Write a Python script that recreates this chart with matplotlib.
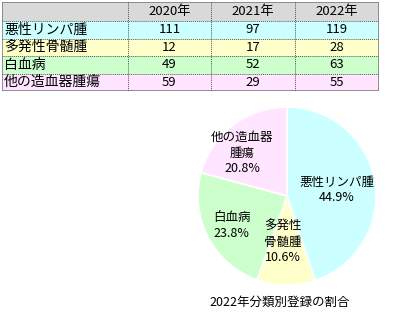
import matplotlib
matplotlib.use("Agg")
import matplotlib.pyplot as plt
from matplotlib.patches import Rectangle

plt.rcParams['font.family'] = ['Noto Sans CJK JP', 'DejaVu Sans']

years = ['2020年', '2021年', '2022年']
categories = ['悪性リンパ腫', '多発性骨髄腫', '白血病', '他の造血器腫瘍']
v2020 = [111, 12, 49, 59]
v2021 = [97, 17, 52, 29]
v2022 = [119, 28, 63, 55]
pie_labels = ['悪性リンパ腫', '多発性\n骨髄腫', '白血病', '他の造血器\n腫瘍']
title = '2022年分類別登録の割合'

row_colors = ['#ccffff', '#ffffcc', '#ccffcc', '#ffe5ff']
header_color = '#d9d9d9'

W, H = 400, 320
fig = plt.figure(figsize=(4, 3.2), dpi=100)

# ---- table axes in pixel coords ----
tx0, tx1, ty0, ty1 = 2, 379, 2, 91
tax = fig.add_axes([tx0 / W, 1 - ty1 / H, (tx1 - tx0) / W, (ty1 - ty0) / H])
tax.set_xlim(tx0, tx1)
tax.set_ylim(ty1, ty0)
tax.axis('off')

col_edges = [2, 128, 211, 295, 379]
row_edges = [2, 21, 38.5, 56, 73.5, 91]
cols = [v2020, v2021, v2022]

tax.add_patch(Rectangle((col_edges[0], row_edges[0]), col_edges[-1] - col_edges[0],
                        row_edges[1] - row_edges[0], facecolor=header_color, edgecolor='none'))
for i, c in enumerate(categories):
    tax.add_patch(Rectangle((col_edges[0], row_edges[i + 1]), col_edges[-1] - col_edges[0],
                            row_edges[i + 2] - row_edges[i + 1], facecolor=row_colors[i], edgecolor='none'))
for j, y in enumerate(years):
    tax.text((col_edges[j + 1] + col_edges[j + 2]) / 2, (row_edges[0] + row_edges[1]) / 2, y,
             ha='center', va='center', fontsize=9.5)
for i, c in enumerate(categories):
    yc = (row_edges[i + 1] + row_edges[i + 2]) / 2
    tax.text(col_edges[0] + 2, yc, c, ha='left', va='center', fontsize=10)
    for j in range(3):
        tax.text((col_edges[j + 1] + col_edges[j + 2]) / 2, yc, str(cols[j][i]),
                 ha='center', va='center', fontsize=9.5)
# grid lines
for ye in row_edges[1:-1]:
    tax.plot([col_edges[0], col_edges[-1]], [ye, ye], color='#555555', lw=0.7, ls=(0, (1, 1)))
for xe in col_edges[1:-1]:
    tax.plot([xe, xe], [row_edges[0], row_edges[-1]], color='#555555', lw=0.7, ls=(0, (1, 1)))
tax.add_patch(Rectangle((col_edges[0], row_edges[0]), col_edges[-1] - col_edges[0],
                        row_edges[-1] - row_edges[0], facecolor='none', edgecolor='#808080', lw=1.2))

# ---- pie ----
cx, cy, r = 287, 196, 89
pax = fig.add_axes([(cx - r) / W, 1 - (cy + r) / H, 2 * r / W, 2 * r / H])
wedges, _ = pax.pie(v2022, colors=row_colors, startangle=90, counterclock=False,
                    wedgeprops=dict(edgecolor='white', linewidth=1.2), radius=1)
pax.set_xlim(-1, 1)
pax.set_ylim(-1, 1)
pax.set_aspect('auto')
total = sum(v2022)
label_pos = [(0.56, 0.07), (-0.05, -0.52), (-0.62, -0.33), (-0.50, 0.48)]
for lab, v, (lx, ly) in zip(pie_labels, v2022, label_pos):
    pax.text(lx, ly, f'{lab}\n{v / total * 100:.1f}%', ha='center', va='center',
             fontsize=9, linespacing=1.25)

fig.text(280 / W, 1 - 302 / H, title, ha='center', va='center', fontsize=9)

fig.savefig('out.png', dpi=100)
